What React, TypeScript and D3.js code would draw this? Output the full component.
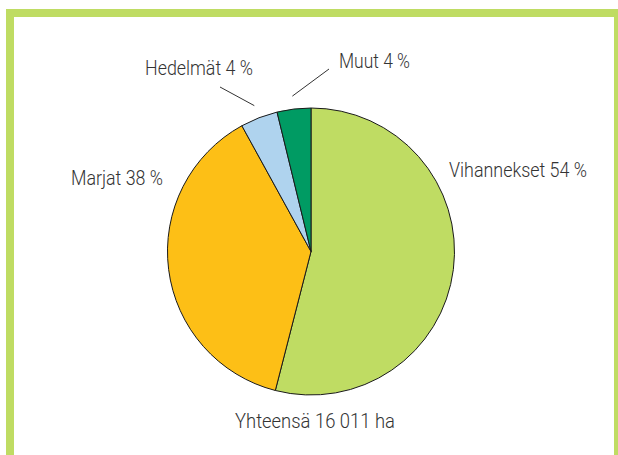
import React from "react";
import * as d3 from "d3";

const categories = ["Vihannekset", "Marjat", "Hedelmät", "Muut"];
const values = [54, 38, 4.2, 3.8];
const labelTexts = ["Vihannekset 54 %", "Marjat 38 %", "Hedelmät 4 %", "Muut 4 %"];
const colors = ["#bfdc63", "#fdbf16", "#afd3ee", "#009b63"];
const totalLabel = "Yhteensä 16 011 ha";

const W = 618;
const H = 455;
const cx = 311;
const cy = 251.5;
const R = 143.5;

// label layout: left x, baseline y, rendered width, optional leader-line end
const labelLayout: Record<string, { x: number; y: number; w: number; line?: [number, number] }> = {
  Vihannekset: { x: 449, y: 177, w: 138 },
  Marjat: { x: 71, y: 185, w: 92 },
  "Hedelmät": { x: 145, y: 75, w: 108, line: [220, 87] },
  Muut: { x: 339, y: 68, w: 71, line: [329, 69] },
};

export default function App() {
  const pie = d3.pie<number>().sort(null).value((d) => d);
  const arcs = pie(values);
  const arc = d3.arc<d3.PieArcDatum<number>>().innerRadius(0).outerRadius(R);
  const font = "Roboto, 'Liberation Sans', Arial, sans-serif";

  return (
    <div style={{ position: "absolute", left: 0, top: 0, width: W, height: H, background: "#fff" }}>
      <svg width={W} height={H} style={{ display: "block" }}>
        <rect x={0} y={0} width={W} height={H} fill="#fff" />
        <rect x={10} y={13} width={608} height={500} fill="none" stroke="#bfdc63" strokeWidth={8} />
        <g transform={`translate(${cx},${cy})`}>
          {arcs.map((a, i) => (
            <path key={categories[i]} d={arc(a) || ""} fill={colors[i]} stroke="#1a1a1a" strokeWidth={1} />
          ))}
        </g>
        {arcs.map((a, i) => {
          const lay = labelLayout[categories[i]];
          if (!lay.line) return null;
          const mid = (a.startAngle + a.endAngle) / 2;
          const r = R + 13;
          const ix = cx + r * Math.sin(mid);
          const iy = cy - r * Math.cos(mid);
          return (
            <line key={"l" + i} x1={ix} y1={iy} x2={lay.line[0]} y2={lay.line[1]} stroke="#333" strokeWidth={1} />
          );
        })}
        {categories.map((c, i) => {
          const lay = labelLayout[c];
          return (
            <text key={"t" + c} x={lay.x} y={lay.y} textLength={lay.w} lengthAdjust="spacingAndGlyphs"
              fontFamily={font} fontWeight={300} fontSize={20} fill="#333">
              {labelTexts[i]}
            </text>
          );
        })}
        <text x={235} y={428} textLength={160} lengthAdjust="spacingAndGlyphs" fontFamily={font} fontWeight={300}
          fontSize={20} fill="#333">
          {totalLabel}
        </text>
      </svg>
    </div>
  );
}
